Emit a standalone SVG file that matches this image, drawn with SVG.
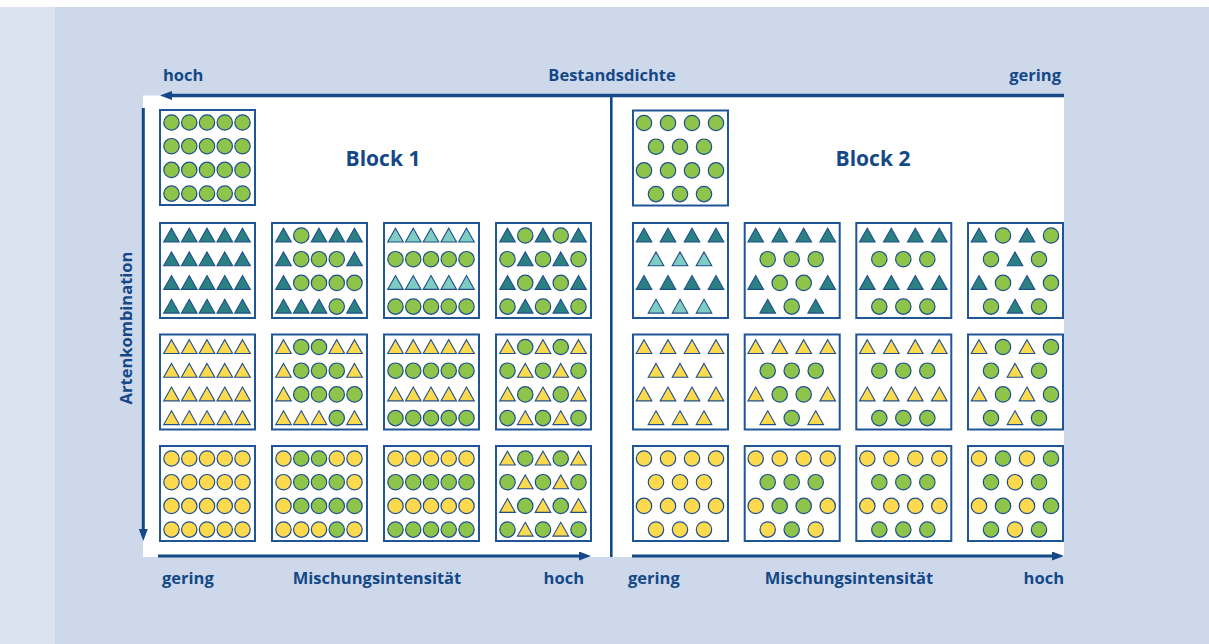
<svg xmlns="http://www.w3.org/2000/svg" width="1209" height="644" viewBox="0 0 1209 644">
<style>
.lbl{font-family:"Open Sans","Noto Sans","Liberation Sans",sans-serif;font-weight:700;fill:#154887;font-size:16.5px}
.blk{font-size:21px}
.tile{fill:#fff;stroke:#1f5696;stroke-width:2}
.ax{stroke:#154887;stroke-width:3.5;fill:none}
</style>
<defs>
<marker id="ah" markerUnits="userSpaceOnUse" markerWidth="12" markerHeight="9" refX="0" refY="4.5" orient="auto"><path d="M0,0 L12,4.5 L0,9 z" fill="#154887"/></marker>
<circle id="G" r="7.7" fill="#8dc449" stroke="#1f4e8c" stroke-width="1.2"/>
<circle id="C" r="7.7" fill="#fdd94e" stroke="#1f4e8c" stroke-width="1.2"/>
<polygon id="T" points="0,-7.3 7.8,6.5 -7.8,6.5" fill="#2b8182" stroke="#1f4e8c" stroke-width="1.1"/>
<polygon id="L" points="0,-7.3 7.8,6.5 -7.8,6.5" fill="#7fccc2" stroke="#1f4e8c" stroke-width="1.1"/>
<polygon id="Y" points="0,-7.3 7.8,6.5 -7.8,6.5" fill="#fdd94e" stroke="#1f4e8c" stroke-width="1.1"/>
<!-- 5-item rows -->
<g id="a-GGGGG"><use href="#G" x="12.5"/><use href="#G" x="30.25"/><use href="#G" x="48"/><use href="#G" x="65.75"/><use href="#G" x="83.5"/></g>
<g id="a-TTTTT"><use href="#T" x="12.5"/><use href="#T" x="30.25"/><use href="#T" x="48"/><use href="#T" x="65.75"/><use href="#T" x="83.5"/></g>
<g id="a-TGTTT"><use href="#T" x="12.5"/><use href="#G" x="30.25"/><use href="#T" x="48"/><use href="#T" x="65.75"/><use href="#T" x="83.5"/></g>
<g id="a-TGGGT"><use href="#T" x="12.5"/><use href="#G" x="30.25"/><use href="#G" x="48"/><use href="#G" x="65.75"/><use href="#T" x="83.5"/></g>
<g id="a-TGGGG"><use href="#T" x="12.5"/><use href="#G" x="30.25"/><use href="#G" x="48"/><use href="#G" x="65.75"/><use href="#G" x="83.5"/></g>
<g id="a-TTTGT"><use href="#T" x="12.5"/><use href="#T" x="30.25"/><use href="#T" x="48"/><use href="#G" x="65.75"/><use href="#T" x="83.5"/></g>
<g id="a-LLLLL"><use href="#L" x="12.5"/><use href="#L" x="30.25"/><use href="#L" x="48"/><use href="#L" x="65.75"/><use href="#L" x="83.5"/></g>
<g id="a-TGTGT"><use href="#T" x="12.5"/><use href="#G" x="30.25"/><use href="#T" x="48"/><use href="#G" x="65.75"/><use href="#T" x="83.5"/></g>
<g id="a-GTGTG"><use href="#G" x="12.5"/><use href="#T" x="30.25"/><use href="#G" x="48"/><use href="#T" x="65.75"/><use href="#G" x="83.5"/></g>
<g id="a-YYYYY"><use href="#Y" x="12.5"/><use href="#Y" x="30.25"/><use href="#Y" x="48"/><use href="#Y" x="65.75"/><use href="#Y" x="83.5"/></g>
<g id="a-YGGYY"><use href="#Y" x="12.5"/><use href="#G" x="30.25"/><use href="#G" x="48"/><use href="#Y" x="65.75"/><use href="#Y" x="83.5"/></g>
<g id="a-YGGGY"><use href="#Y" x="12.5"/><use href="#G" x="30.25"/><use href="#G" x="48"/><use href="#G" x="65.75"/><use href="#Y" x="83.5"/></g>
<g id="a-YGGGG"><use href="#Y" x="12.5"/><use href="#G" x="30.25"/><use href="#G" x="48"/><use href="#G" x="65.75"/><use href="#G" x="83.5"/></g>
<g id="a-YYYGY"><use href="#Y" x="12.5"/><use href="#Y" x="30.25"/><use href="#Y" x="48"/><use href="#G" x="65.75"/><use href="#Y" x="83.5"/></g>
<g id="a-YGYGY"><use href="#Y" x="12.5"/><use href="#G" x="30.25"/><use href="#Y" x="48"/><use href="#G" x="65.75"/><use href="#Y" x="83.5"/></g>
<g id="a-GYGYG"><use href="#G" x="12.5"/><use href="#Y" x="30.25"/><use href="#G" x="48"/><use href="#Y" x="65.75"/><use href="#G" x="83.5"/></g>
<g id="a-CCCCC"><use href="#C" x="12.5"/><use href="#C" x="30.25"/><use href="#C" x="48"/><use href="#C" x="65.75"/><use href="#C" x="83.5"/></g>
<g id="a-CGGCC"><use href="#C" x="12.5"/><use href="#G" x="30.25"/><use href="#G" x="48"/><use href="#C" x="65.75"/><use href="#C" x="83.5"/></g>
<g id="a-CGGGC"><use href="#C" x="12.5"/><use href="#G" x="30.25"/><use href="#G" x="48"/><use href="#G" x="65.75"/><use href="#C" x="83.5"/></g>
<g id="a-CGGGG"><use href="#C" x="12.5"/><use href="#G" x="30.25"/><use href="#G" x="48"/><use href="#G" x="65.75"/><use href="#G" x="83.5"/></g>
<g id="a-CCCGC"><use href="#C" x="12.5"/><use href="#C" x="30.25"/><use href="#C" x="48"/><use href="#G" x="65.75"/><use href="#C" x="83.5"/></g>
<!-- 4-item and 3-item rows -->
<g id="b-GGGG"><use href="#G" x="12"/><use href="#G" x="36"/><use href="#G" x="60"/><use href="#G" x="84"/></g>
<g id="c-GGG"><use href="#G" x="24"/><use href="#G" x="48"/><use href="#G" x="72"/></g>
<g id="b-TTTT"><use href="#T" x="12"/><use href="#T" x="36"/><use href="#T" x="60"/><use href="#T" x="84"/></g>
<g id="c-LLL"><use href="#L" x="24"/><use href="#L" x="48"/><use href="#L" x="72"/></g>
<g id="b-TGGT"><use href="#T" x="12"/><use href="#G" x="36"/><use href="#G" x="60"/><use href="#T" x="84"/></g>
<g id="c-TGT"><use href="#T" x="24"/><use href="#G" x="48"/><use href="#T" x="72"/></g>
<g id="b-TGTG"><use href="#T" x="12"/><use href="#G" x="36"/><use href="#T" x="60"/><use href="#G" x="84"/></g>
<g id="c-GTG"><use href="#G" x="24"/><use href="#T" x="48"/><use href="#G" x="72"/></g>
<g id="b-YYYY"><use href="#Y" x="12"/><use href="#Y" x="36"/><use href="#Y" x="60"/><use href="#Y" x="84"/></g>
<g id="c-YYY"><use href="#Y" x="24"/><use href="#Y" x="48"/><use href="#Y" x="72"/></g>
<g id="b-YGGY"><use href="#Y" x="12"/><use href="#G" x="36"/><use href="#G" x="60"/><use href="#Y" x="84"/></g>
<g id="c-YGY"><use href="#Y" x="24"/><use href="#G" x="48"/><use href="#Y" x="72"/></g>
<g id="b-YGYG"><use href="#Y" x="12"/><use href="#G" x="36"/><use href="#Y" x="60"/><use href="#G" x="84"/></g>
<g id="c-GYG"><use href="#G" x="24"/><use href="#Y" x="48"/><use href="#G" x="72"/></g>
<g id="b-CCCC"><use href="#C" x="12"/><use href="#C" x="36"/><use href="#C" x="60"/><use href="#C" x="84"/></g>
<g id="c-CCC"><use href="#C" x="24"/><use href="#C" x="48"/><use href="#C" x="72"/></g>
<g id="b-CGGC"><use href="#C" x="12"/><use href="#G" x="36"/><use href="#G" x="60"/><use href="#C" x="84"/></g>
<g id="c-CGC"><use href="#C" x="24"/><use href="#G" x="48"/><use href="#C" x="72"/></g>
<g id="b-CGCG"><use href="#C" x="12"/><use href="#G" x="36"/><use href="#C" x="60"/><use href="#G" x="84"/></g>
<g id="c-GCG"><use href="#G" x="24"/><use href="#C" x="48"/><use href="#G" x="72"/></g>
</defs>

<!-- background -->
<rect x="0" y="0" width="1209" height="644" fill="#cdd9ea"/>
<rect x="0" y="0" width="55" height="644" fill="#dbe2f0"/>
<rect x="0" y="0" width="1209" height="7" fill="#ffffff"/>
<rect x="143" y="95.5" width="921" height="461.5" fill="#ffffff"/>

<!-- labels -->
<g id="labels">
<text class="lbl" x="163" y="81">hoch</text>
<text class="lbl" x="612" y="81" text-anchor="middle">Bestandsdichte</text>
<text class="lbl" x="1061" y="81" text-anchor="end">gering</text>
<text class="lbl blk" x="383" y="166" text-anchor="middle">Block 1</text>
<text class="lbl blk" x="873" y="166" text-anchor="middle">Block 2</text>
<text class="lbl" x="162" y="584">gering</text>
<text class="lbl" x="377" y="584" text-anchor="middle">Mischungsintensität</text>
<text class="lbl" x="584" y="584" text-anchor="end">hoch</text>
<text class="lbl" x="628" y="584">gering</text>
<text class="lbl" x="849" y="584" text-anchor="middle">Mischungsintensität</text>
<text class="lbl" x="1064" y="584" text-anchor="end">hoch</text>
<text class="lbl" transform="translate(131.5,328) rotate(-90)" text-anchor="middle">Artenkombination</text>
</g>

<!-- connectors -->
<g id="connectors">
<path class="ax" d="M1064,95.5 H172" marker-end="url(#ah)"/>
<path class="ax" d="M143.3,108 V529" marker-end="url(#ah)" style="stroke-width:3"/>
<path class="ax" d="M158,556 H579" marker-end="url(#ah)" style="stroke-width:3.2"/>
<path class="ax" d="M632,556 H1052" marker-end="url(#ah)" style="stroke-width:3.2"/>
<path class="ax" d="M611.3,97 V557" style="stroke-width:2.6"/>
</g>

<!-- Block 1 -->
<g id="b1-r1" transform="translate(159,109)"><rect class="tile" x="1" y="1" width="95" height="95"/><use href="#a-GGGGG" y="13.5"/><use href="#a-GGGGG" y="37.2"/><use href="#a-GGGGG" y="60.9"/><use href="#a-GGGGG" y="84.6"/></g>

<g id="b1-r2c1" transform="translate(159,222)"><rect class="tile" x="1" y="1" width="95" height="95"/><use href="#a-TTTTT" y="13.5"/><use href="#a-TTTTT" y="37.2"/><use href="#a-TTTTT" y="60.9"/><use href="#a-TTTTT" y="84.6"/></g>
<g id="b1-r2c2" transform="translate(271,222)"><rect class="tile" x="1" y="1" width="95" height="95"/><use href="#a-TGTTT" y="13.5"/><use href="#a-TGGGT" y="37.2"/><use href="#a-TGGGG" y="60.9"/><use href="#a-TTTGT" y="84.6"/></g>
<g id="b1-r2c3" transform="translate(383,222)"><rect class="tile" x="1" y="1" width="95" height="95"/><use href="#a-LLLLL" y="13.5"/><use href="#a-GGGGG" y="37.2"/><use href="#a-LLLLL" y="60.9"/><use href="#a-GGGGG" y="84.6"/></g>
<g id="b1-r2c4" transform="translate(495,222)"><rect class="tile" x="1" y="1" width="95" height="95"/><use href="#a-TGTGT" y="13.5"/><use href="#a-GTGTG" y="37.2"/><use href="#a-TGTGT" y="60.9"/><use href="#a-GTGTG" y="84.6"/></g>

<g id="b1-r3c1" transform="translate(159,333.5)"><rect class="tile" x="1" y="1" width="95" height="95"/><use href="#a-YYYYY" y="13.5"/><use href="#a-YYYYY" y="37.2"/><use href="#a-YYYYY" y="60.9"/><use href="#a-YYYYY" y="84.6"/></g>
<g id="b1-r3c2" transform="translate(271,333.5)"><rect class="tile" x="1" y="1" width="95" height="95"/><use href="#a-YGGYY" y="13.5"/><use href="#a-YGGGY" y="37.2"/><use href="#a-YGGGG" y="60.9"/><use href="#a-YYYGY" y="84.6"/></g>
<g id="b1-r3c3" transform="translate(383,333.5)"><rect class="tile" x="1" y="1" width="95" height="95"/><use href="#a-YYYYY" y="13.5"/><use href="#a-GGGGG" y="37.2"/><use href="#a-YYYYY" y="60.9"/><use href="#a-GGGGG" y="84.6"/></g>
<g id="b1-r3c4" transform="translate(495,333.5)"><rect class="tile" x="1" y="1" width="95" height="95"/><use href="#a-YGYGY" y="13.5"/><use href="#a-GYGYG" y="37.2"/><use href="#a-YGYGY" y="60.9"/><use href="#a-GYGYG" y="84.6"/></g>

<g id="b1-r4c1" transform="translate(159,445)"><rect class="tile" x="1" y="1" width="95" height="95"/><use href="#a-CCCCC" y="13.5"/><use href="#a-CCCCC" y="37.2"/><use href="#a-CCCCC" y="60.9"/><use href="#a-CCCCC" y="84.6"/></g>
<g id="b1-r4c2" transform="translate(271,445)"><rect class="tile" x="1" y="1" width="95" height="95"/><use href="#a-CGGCC" y="13.5"/><use href="#a-CGGGC" y="37.2"/><use href="#a-CGGGG" y="60.9"/><use href="#a-CCCGC" y="84.6"/></g>
<g id="b1-r4c3" transform="translate(383,445)"><rect class="tile" x="1" y="1" width="95" height="95"/><use href="#a-CCCCC" y="13.5"/><use href="#a-GGGGG" y="37.2"/><use href="#a-CCCCC" y="60.9"/><use href="#a-GGGGG" y="84.6"/></g>
<g id="b1-r4c4" transform="translate(495,445)"><rect class="tile" x="1" y="1" width="95" height="95"/><use href="#a-YGYGY" y="13.5"/><use href="#a-GYGYG" y="37.2"/><use href="#a-YGYGY" y="60.9"/><use href="#a-GYGYG" y="84.6"/></g>

<!-- Block 2 -->
<g id="b2-r1" transform="translate(632,109.5)"><rect class="tile" x="1" y="1" width="95" height="95"/><use href="#b-GGGG" y="13.5"/><use href="#c-GGG" y="37.2"/><use href="#b-GGGG" y="60.9"/><use href="#c-GGG" y="84.6"/></g>

<g id="b2-r2c1" transform="translate(632,222)"><rect class="tile" x="1" y="1" width="95" height="95"/><use href="#b-TTTT" y="13.5"/><use href="#c-LLL" y="37.2"/><use href="#b-TTTT" y="60.9"/><use href="#c-LLL" y="84.6"/></g>
<g id="b2-r2c2" transform="translate(743.7,222)"><rect class="tile" x="1" y="1" width="95" height="95"/><use href="#b-TTTT" y="13.5"/><use href="#c-GGG" y="37.2"/><use href="#b-TGGT" y="60.9"/><use href="#c-TGT" y="84.6"/></g>
<g id="b2-r2c3" transform="translate(855.3,222)"><rect class="tile" x="1" y="1" width="95" height="95"/><use href="#b-TTTT" y="13.5"/><use href="#c-GGG" y="37.2"/><use href="#b-TTTT" y="60.9"/><use href="#c-GGG" y="84.6"/></g>
<g id="b2-r2c4" transform="translate(967,222)"><rect class="tile" x="1" y="1" width="95" height="95"/><use href="#b-TGTG" y="13.5"/><use href="#c-GTG" y="37.2"/><use href="#b-TGTG" y="60.9"/><use href="#c-GTG" y="84.6"/></g>

<g id="b2-r3c1" transform="translate(632,333.5)"><rect class="tile" x="1" y="1" width="95" height="95"/><use href="#b-YYYY" y="13.5"/><use href="#c-YYY" y="37.2"/><use href="#b-YYYY" y="60.9"/><use href="#c-YYY" y="84.6"/></g>
<g id="b2-r3c2" transform="translate(743.7,333.5)"><rect class="tile" x="1" y="1" width="95" height="95"/><use href="#b-YYYY" y="13.5"/><use href="#c-GGG" y="37.2"/><use href="#b-YGGY" y="60.9"/><use href="#c-YGY" y="84.6"/></g>
<g id="b2-r3c3" transform="translate(855.3,333.5)"><rect class="tile" x="1" y="1" width="95" height="95"/><use href="#b-YYYY" y="13.5"/><use href="#c-GGG" y="37.2"/><use href="#b-YYYY" y="60.9"/><use href="#c-GGG" y="84.6"/></g>
<g id="b2-r3c4" transform="translate(967,333.5)"><rect class="tile" x="1" y="1" width="95" height="95"/><use href="#b-YGYG" y="13.5"/><use href="#c-GYG" y="37.2"/><use href="#b-YGYG" y="60.9"/><use href="#c-GYG" y="84.6"/></g>

<g id="b2-r4c1" transform="translate(632,445)"><rect class="tile" x="1" y="1" width="95" height="95"/><use href="#b-CCCC" y="13.5"/><use href="#c-CCC" y="37.2"/><use href="#b-CCCC" y="60.9"/><use href="#c-CCC" y="84.6"/></g>
<g id="b2-r4c2" transform="translate(743.7,445)"><rect class="tile" x="1" y="1" width="95" height="95"/><use href="#b-CCCC" y="13.5"/><use href="#c-GGG" y="37.2"/><use href="#b-CGGC" y="60.9"/><use href="#c-CGC" y="84.6"/></g>
<g id="b2-r4c3" transform="translate(855.3,445)"><rect class="tile" x="1" y="1" width="95" height="95"/><use href="#b-CCCC" y="13.5"/><use href="#c-GGG" y="37.2"/><use href="#b-CCCC" y="60.9"/><use href="#c-GGG" y="84.6"/></g>
<g id="b2-r4c4" transform="translate(967,445)"><rect class="tile" x="1" y="1" width="95" height="95"/><use href="#b-CGCG" y="13.5"/><use href="#c-GCG" y="37.2"/><use href="#b-CGCG" y="60.9"/><use href="#c-GCG" y="84.6"/></g>
</svg>
